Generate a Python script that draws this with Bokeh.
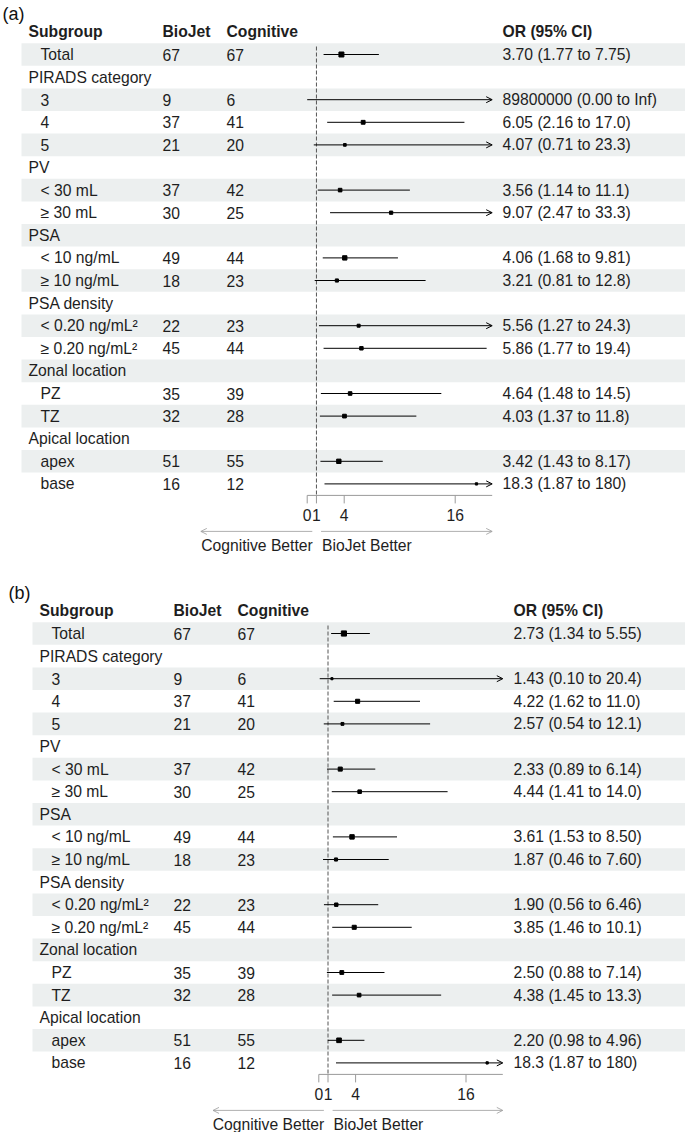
import math
from bokeh.plotting import figure
from bokeh.models import Range1d, Arrow, OpenHead, ColumnDataSource
from bokeh.core.properties import value
from bokeh.embed import file_html
from bokeh.resources import INLINE

# ---------------- data ----------------
subgroups = ["Total", "PIRADS category", "3", "4", "5", "PV", "< 30 mL", "\u2265 30 mL",
             "PSA", "< 10 ng/mL", "\u2265 10 ng/mL", "PSA density",
             "< 0.20 ng/mL\u00b2", "\u2265 0.20 ng/mL\u00b2", "Zonal location", "PZ", "TZ",
             "Apical location", "apex", "base"]
is_group = [False, True, False, False, False, True, False, False, True, False, False, True,
            False, False, True, False, False, True, False, False]
biojet_n = ["67", "", "9", "37", "21", "", "37", "30", "", "49", "18", "", "22", "45", "",
            "35", "32", "", "51", "16"]
cognitive_n = ["67", "", "6", "41", "20", "", "42", "25", "", "44", "23", "", "23", "44", "",
               "39", "28", "", "55", "12"]

INF = float("inf")
a_est = [3.70, None, 89800000, 6.05, 4.07, None, 3.56, 9.07, None, 4.06, 3.21, None,
         5.56, 5.86, None, 4.64, 4.03, None, 3.42, 18.3]
a_lo = [1.77, None, 0.00, 2.16, 0.71, None, 1.14, 2.47, None, 1.68, 0.81, None,
        1.27, 1.77, None, 1.48, 1.37, None, 1.43, 1.87]
a_hi = [7.75, None, INF, 17.0, 23.3, None, 11.1, 33.3, None, 9.81, 12.8, None,
        24.3, 19.4, None, 14.5, 11.8, None, 8.17, 180]
a_text = ["3.70 (1.77 to 7.75)", "", "89800000 (0.00 to Inf)", "6.05 (2.16 to 17.0)",
          "4.07 (0.71 to 23.3)", "", "3.56 (1.14 to 11.1)", "9.07 (2.47 to 33.3)", "",
          "4.06 (1.68 to 9.81)", "3.21 (0.81 to 12.8)", "", "5.56 (1.27 to 24.3)",
          "5.86 (1.77 to 19.4)", "", "4.64 (1.48 to 14.5)", "4.03 (1.37 to 11.8)", "",
          "3.42 (1.43 to 8.17)", "18.3 (1.87 to 180)"]

b_est = [2.73, None, 1.43, 4.22, 2.57, None, 2.33, 4.44, None, 3.61, 1.87, None,
         1.90, 3.85, None, 2.50, 4.38, None, 2.20, 18.3]
b_lo = [1.34, None, 0.10, 1.62, 0.54, None, 0.89, 1.41, None, 1.53, 0.46, None,
        0.56, 1.46, None, 0.88, 1.45, None, 0.98, 1.87]
b_hi = [5.55, None, 20.4, 11.0, 12.1, None, 6.14, 14.0, None, 8.50, 7.60, None,
        6.46, 10.1, None, 7.14, 13.3, None, 4.96, 180]
b_text = ["2.73 (1.34 to 5.55)", "", "1.43 (0.10 to 20.4)", "4.22 (1.62 to 11.0)",
          "2.57 (0.54 to 12.1)", "", "2.33 (0.89 to 6.14)", "4.44 (1.41 to 14.0)", "",
          "3.61 (1.53 to 8.50)", "1.87 (0.46 to 7.60)", "", "1.90 (0.56 to 6.46)",
          "3.85 (1.46 to 10.1)", "", "2.50 (0.88 to 7.14)", "4.38 (1.45 to 13.3)", "",
          "2.20 (0.98 to 4.96)", "18.3 (1.87 to 180)"]

headers = ["Subgroup", "BioJet", "Cognitive", "OR (95% CI)"]
xlim = [0, 20]
ticks = [0, 1, 4, 16]
ref_value = 1
arrow_labels = ["Cognitive Better", "BioJet Better"]

# ---------------- layout ----------------
W, H = 685, 1132
ROW_H = 22.6
FONT = value("Liberation Sans")
FS = "15.7px"
TXT = "#1e1e1e"
SHADE = "#ecefef"

p = figure(width=W, height=H, x_range=Range1d(0, W), y_range=Range1d(H, 0),
           output_backend="svg", toolbar_location=None, x_axis_type=None, y_axis_type=None,
           min_border=0, outline_line_color=None)
p.background_fill_color = "white"
p.border_fill_color = "white"


def or_range(px0, px1):
    scale = (px1 - px0) / (xlim[1] - xlim[0])
    return Range1d(xlim[0] - px0 / scale, xlim[1] + (W - px1) / scale)


def text(x, y, t, bold=False, align="left", size=FS, color=TXT, **kw):
    p.text(x=x, y=y, text=t, text_font=FONT, text_font_size=size,
           text_font_style="bold" if bold else "normal", text_align=align,
           text_baseline="middle", text_color=color, **kw)


def panel(tag, row0, xoff, tagx, px0, px1, est, lo, hi, txt):
    rn = "or_" + tag
    p.extra_x_ranges[rn] = or_range(px0, px1)
    n = len(subgroups)
    ys = [row0 + ROW_H * i for i in range(n)]

    # zebra shading
    sh = [i for i in range(n) if i % 2 == 0]
    p.quad(left=21 + xoff, right=W, top=[ys[i] - ROW_H / 2 for i in sh],
           bottom=[ys[i] + ROW_H / 2 for i in sh], fill_color=SHADE, line_color=None)

    # panel tag
    text([tagx], [row0 - 41], ["(" + tag + ")"], size="18px", color="#111")

    # headers
    hx = [28 + xoff, 162 + xoff, 226 + xoff, 502 + xoff]
    text(hx, [row0 - ROW_H] * 4, headers, bold=True)

    # table columns
    lx = [(28 if g else 40) + xoff for g in is_group]
    text(lx, ys, subgroups)
    text([162 + xoff] * n, ys, biojet_n)
    text([226 + xoff] * n, ys, cognitive_n)
    text([502 + xoff] * n, ys, txt)

    axis_y = ys[-1] + 11.5

    # reference line
    p.segment(x0=[ref_value], x1=[ref_value], y0=[row0 - 8], y1=[axis_y],
              line_color="#555555", line_width=1, line_dash="4 2", x_range_name=rn)

    # CIs
    seg = dict(x0=[], x1=[], y=[])
    arr = dict(x0=[], x1=[], y=[])
    pts = dict(x=[], y=[], s=[])
    for i in range(n):
        if est[i] is None:
            continue
        l0 = max(lo[i], xlim[0])
        h0 = min(hi[i], xlim[1])
        d = arr if hi[i] > xlim[1] else seg
        d["x0"].append(l0)
        d["x1"].append(h0)
        d["y"].append(ys[i])
        if xlim[0] <= est[i] <= xlim[1]:
            if lo[i] > 0 and math.isfinite(hi[i]):
                se = (math.log(hi[i]) - math.log(lo[i])) / 3.92
            else:
                se = 1.5
            pts["x"].append(est[i])
            pts["y"].append(ys[i])
            pts["s"].append(1 + 1.5 / se)
    p.segment(x0="x0", x1="x1", y0="y", y1="y", source=ColumnDataSource(seg),
              line_color="black", line_width=1, x_range_name=rn)
    p.add_layout(Arrow(end=OpenHead(size=6, line_width=1, line_color="black"),
                       x_start="x0", x_end="x1", y_start="y", y_end="y",
                       source=ColumnDataSource(arr), line_color="black", line_width=1,
                       x_range_name=rn))
    p.scatter(x="x", y="y", size="s", marker="square", color="black",
              source=ColumnDataSource(pts), x_range_name=rn)

    # x axis
    p.segment(x0=[xlim[0]], x1=[xlim[1]], y0=[axis_y], y1=[axis_y],
              line_color="#9a9a9a", line_width=1, x_range_name=rn)
    p.segment(x0=ticks, x1=ticks, y0=[axis_y] * len(ticks), y1=[axis_y + 8] * len(ticks),
              line_color="#9a9a9a", line_width=1, x_range_name=rn)
    text(ticks, [axis_y + 20] * len(ticks), [str(t) for t in ticks], align="center",
         x_range_name=rn)

    # direction arrows
    ay = axis_y + 36
    p.add_layout(Arrow(end=OpenHead(size=6, line_width=0.8, line_color="#9a9a9a"),
                       x_start=ref_value - 0.45, x_end=-11.5, y_start=ay, y_end=ay,
                       line_color="#9a9a9a", line_width=0.8, x_range_name=rn))
    p.add_layout(Arrow(end=OpenHead(size=6, line_width=0.8, line_color="#9a9a9a"),
                       x_start=ref_value + 0.5, x_end=xlim[1], y_start=ay, y_end=ay,
                       line_color="#9a9a9a", line_width=0.8, x_range_name=rn))
    text([ref_value - 0.4], [axis_y + 50], [arrow_labels[0]], align="right", x_range_name=rn)
    text([ref_value + 0.6], [axis_y + 50], [arrow_labels[1]], align="left", x_range_name=rn)


panel("a", 54, 0, 2, 306.7, 491.7, a_est, a_lo, a_hi, a_text)
panel("b", 633, 11, 8, 318.3, 502.3, b_est, b_lo, b_hi, b_text)

open("out.html", "w").write(file_html(p, INLINE))
